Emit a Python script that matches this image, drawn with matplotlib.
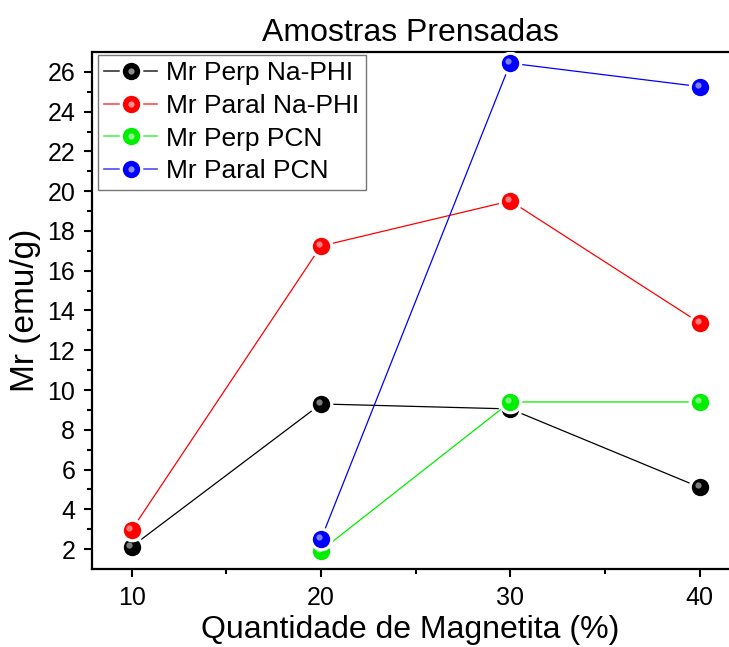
import numpy as np
import matplotlib.pyplot as plt
import matplotlib.transforms as mtransforms
from matplotlib.colors import to_rgb
from matplotlib.legend_handler import HandlerTuple

plt.rcParams['font.family'] = ['Liberation Sans', 'DejaVu Sans']

x_na = [10, 20, 30, 40]
x_pcn = [20, 30, 40]
perp_na = [2.12, 9.3, 9.05, 5.11]
paral_na = [2.96, 17.24, 19.51, 13.38]
perp_pcn = [1.92, 9.4, 9.4]
paral_pcn = [2.49, 26.44, 25.26]

series = [
    (x_na, perp_na, "#000000", "Mr Perp Na-PHI"),
    (x_na, paral_na, "#ff0000", "Mr Paral Na-PHI"),
    (x_pcn, perp_pcn, "#00ee00", "Mr Perp PCN"),
    (x_pcn, paral_pcn, "#0000ff", "Mr Paral PCN"),
]

fig = plt.figure(figsize=(7.29, 6.47), dpi=100)
ax = fig.add_axes([92 / 729, 1 - 569 / 647, (729 - 92) / 729, (569 - 52) / 647])

# small offset for the sphere highlight
shift = mtransforms.ScaledTranslation(-1.5 / 72, 1.5 / 72, fig.dpi_scale_trans)

handles = []
for i, (xs, ys, c, lab) in enumerate(series):
    z = 3 + i * 3
    ax.plot(xs, ys, color=c, lw=0.9, zorder=z)
    # white ring = gap between line and ball
    ax.plot(xs, ys, ls="none", marker="o", ms=17, mfc="white", mec="none", zorder=z + 0.5)
    ax.plot(xs, ys, ls="none", marker="o", ms=12.5, mfc=c, mec="none", zorder=z + 1)
    light = tuple(0.45 * np.array(to_rgb(c)) + 0.55)
    ax.plot(xs, ys, ls="none", marker="o", ms=4.5, mfc=light, mec="none", alpha=0.9,
            zorder=z + 2, transform=ax.transData + shift)
    faded = tuple(0.6 * np.array(to_rgb(c)) + 0.4 * np.array(to_rgb("#888888")) if c == "#000000"
                  else 0.7 * np.array(to_rgb(c)) + 0.3)
    lh, = ax.plot([], [], color=faded, lw=1.2)
    gap, = ax.plot([], [], ls="none", marker="o", ms=17, mfc="white", mec="none")
    bl, = ax.plot([], [], ls="none", marker="o", ms=12.5, mfc=c, mec="none")
    hl, = ax.plot([], [], ls="none", marker="o", ms=4.5, mfc=light, mec="none")
    handles.append(((lh, gap, bl, hl), lab))

ax.set_xlim(7.91, 41.55)
ax.set_ylim(1, 27)
ax.set_xticks([10, 20, 30, 40])
ax.set_xticks([15, 25, 35], minor=True)
ax.set_yticks(np.arange(2, 27, 2))
ax.set_yticks(np.arange(3, 27, 2), minor=True)

for s in ["left", "bottom", "top"]:
    ax.spines[s].set_linewidth(1.6)
ax.spines["right"].set_visible(False)
ax.tick_params(which="major", direction="out", length=6, width=1.5, labelsize=18, pad=6)
ax.tick_params(which="minor", direction="out", length=3.5, width=1.5)

ax.set_title("Amostras Prensadas", fontsize=23, pad=8)
ax.set_xlabel("Quantidade de Magnetita (%)", fontsize=23, labelpad=4)
ax.set_ylabel("Mr (emu/g)", fontsize=24, labelpad=5)

leg = ax.legend([h for h, _ in handles], [l for _, l in handles],
                handler_map={tuple: HandlerTuple(ndivide=1, pad=0)},
                loc="upper left", bbox_to_anchor=(0.009, 0.995), fontsize=19,
                frameon=True, fancybox=False, handlelength=2.0, handletextpad=0.35,
                borderpad=0.25, labelspacing=0.33, borderaxespad=0.0)
leg.get_frame().set_edgecolor("#555555")
leg.get_frame().set_linewidth(1.0)
leg.set_zorder(20)

fig.savefig("out.png", dpi=100)
